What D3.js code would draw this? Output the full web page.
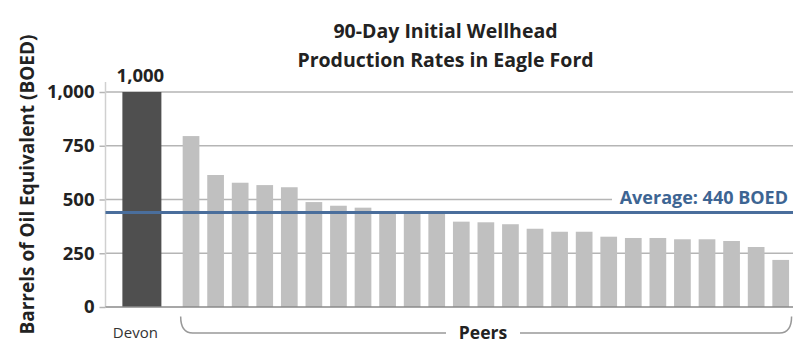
<!DOCTYPE html>
<html>
<head>
<meta charset="utf-8">
<script src="https://cdn.jsdelivr.net/npm/d3@7/dist/d3.min.js"></script>
<style>
  html, body { margin: 0; padding: 0; background: #fff; }
  svg { display: block; font-family: "Open Sans", Lato, sans-serif; }
</style>
</head>
<body>
<svg id="chart" width="800" height="355"></svg>
<script>
// ---- Data ----
const titleLines = ["90-Day Initial Wellhead", "Production Rates in Eagle Ford"];
const yAxisLabel = "Barrels of Oil Equivalent (BOED)";
const devonName = "Devon";
const devonValue = 1000;
const peerGroupLabel = "Peers";
const peerNames = d3.range(1, 26).map(i => "Peer " + i);
const peerValues = [795, 614, 578, 567, 557, 488, 471, 462, 440, 440, 435, 397, 394, 385, 364, 350, 350, 327, 321, 321, 315, 315, 307, 279, 219];
const averageValue = 440;
const averageLabel = "Average: 440 BOED";
const yTicks = [0, 250, 500, 750, 1000];

// ---- Layout ----
const FONT = "'Open Sans', Lato, sans-serif";
const svg = d3.select("#chart");
const plot = { left: 105.5, right: 793, top: 92, bottom: 307 };
const slots = [devonName, "_gap", ...peerNames];

const y = d3.scaleLinear().domain([0, 1000]).range([plot.bottom, plot.top]);
const x = d3.scaleBand().domain(slots).range([129.6, 793]).paddingInner(0.32).paddingOuter(0.16);
const devonWidth = 39;

// Title
svg.append("g").selectAll("text").data(titleLines).join("text")
  .attr("x", 445.5).attr("y", (d, i) => 38 + i * 28.7)
  .attr("text-anchor", "middle")
  .attr("font-size", 19.5).attr("font-weight", 700).attr("fill", "#222")
  .text(d => d);

// Y axis label
svg.append("text")
  .attr("transform", "translate(34,184.5) rotate(-90)")
  .attr("text-anchor", "middle")
  .attr("font-size", 19).attr("font-weight", 700).attr("fill", "#222")
  .text(yAxisLabel);

// Ticks via axis
const yAxis = d3.axisLeft(y).tickValues(yTicks).tickFormat(d3.format(",")).tickSize(6).tickPadding(5);
const gy = svg.append("g").attr("transform", `translate(${plot.left},0)`).call(yAxis);
gy.select(".domain").remove();
gy.selectAll(".tick line").attr("stroke", "#b5b5b5").attr("stroke-width", 1.5);
gy.selectAll(".tick text").attr("font-size", 18.5).attr("font-weight", 700).attr("fill", "#222")
  .attr("font-family", FONT);

// Grid lines
svg.append("g").selectAll("line").data(yTicks.filter(d => d > 0)).join("line")
  .attr("x1", plot.left).attr("x2", plot.right)
  .attr("y1", d => y(d)).attr("y2", d => y(d))
  .attr("stroke", "#b5b5b5").attr("stroke-width", 1.5);

// Vertical axis line
svg.append("line")
  .attr("x1", plot.left).attr("x2", plot.left)
  .attr("y1", 82).attr("y2", plot.bottom)
  .attr("stroke", "#d0d0d0").attr("stroke-width", 1.5);

// Peer bars
svg.append("g").selectAll("rect").data(peerValues).join("rect")
  .attr("x", (d, i) => x(peerNames[i]))
  .attr("width", x.bandwidth())
  .attr("y", d => y(d))
  .attr("height", d => y(0) - y(d))
  .attr("fill", "#c0c0c0");

// Devon bar
const devonCx = x(devonName) + x.bandwidth() / 2;
svg.append("rect")
  .attr("x", devonCx - devonWidth / 2).attr("width", devonWidth)
  .attr("y", y(devonValue)).attr("height", y(0) - y(devonValue))
  .attr("fill", "#4f4f4f");

svg.append("text")
  .attr("x", devonCx - 1.5).attr("y", y(devonValue) - 10)
  .attr("text-anchor", "middle")
  .attr("font-size", 18.5).attr("font-weight", 700).attr("fill", "#222")
  .text(d3.format(",")(devonValue));

// Baseline
svg.append("line")
  .attr("x1", plot.left).attr("x2", plot.right)
  .attr("y1", y(0)).attr("y2", y(0))
  .attr("stroke", "#8a8a8a").attr("stroke-width", 1.5);

// Average label with white backing
const avgY = y(averageValue);
svg.append("rect").attr("x", 612).attr("y", avgY - 26).attr("width", 181).attr("height", 20).attr("fill", "#fff");
svg.append("text")
  .attr("x", 788).attr("y", avgY - 8)
  .attr("text-anchor", "end")
  .attr("font-size", 18).attr("font-weight", 700).attr("fill", "#3d6593")
  .text(averageLabel);

// Average line
svg.append("line")
  .attr("x1", plot.left).attr("x2", plot.right)
  .attr("y1", avgY).attr("y2", avgY)
  .attr("stroke", "#4a6e9c").attr("stroke-width", 3);

// Category labels
svg.append("text")
  .attr("x", devonCx - 6.5).attr("y", 338)
  .attr("text-anchor", "middle")
  .attr("font-size", 15).attr("font-weight", 400).attr("fill", "#333")
  .text(devonName);

// Brace under peers
const bl = x(peerNames[0]) - 2;
const br = x(peerNames[peerNames.length - 1]) + x.bandwidth() + 2.5;
const by0 = 316.5, by1 = 333;
svg.append("path")
  .attr("d", `M${bl},${by0} Q${bl},${by1} ${bl + 12},${by1} L${br - 12},${by1} Q${br},${by1} ${br},${by0}`)
  .attr("fill", "none").attr("stroke", "#999").attr("stroke-width", 1.5);

const peersCx = 483;
svg.append("rect").attr("x", peersCx - 37).attr("y", 322).attr("width", 74).attr("height", 20).attr("fill", "#fff");
svg.append("text")
  .attr("x", peersCx).attr("y", 339)
  .attr("text-anchor", "middle")
  .attr("font-size", 17.5).attr("font-weight", 700).attr("fill", "#222")
  .text(peerGroupLabel);
</script>
</body>
</html>
